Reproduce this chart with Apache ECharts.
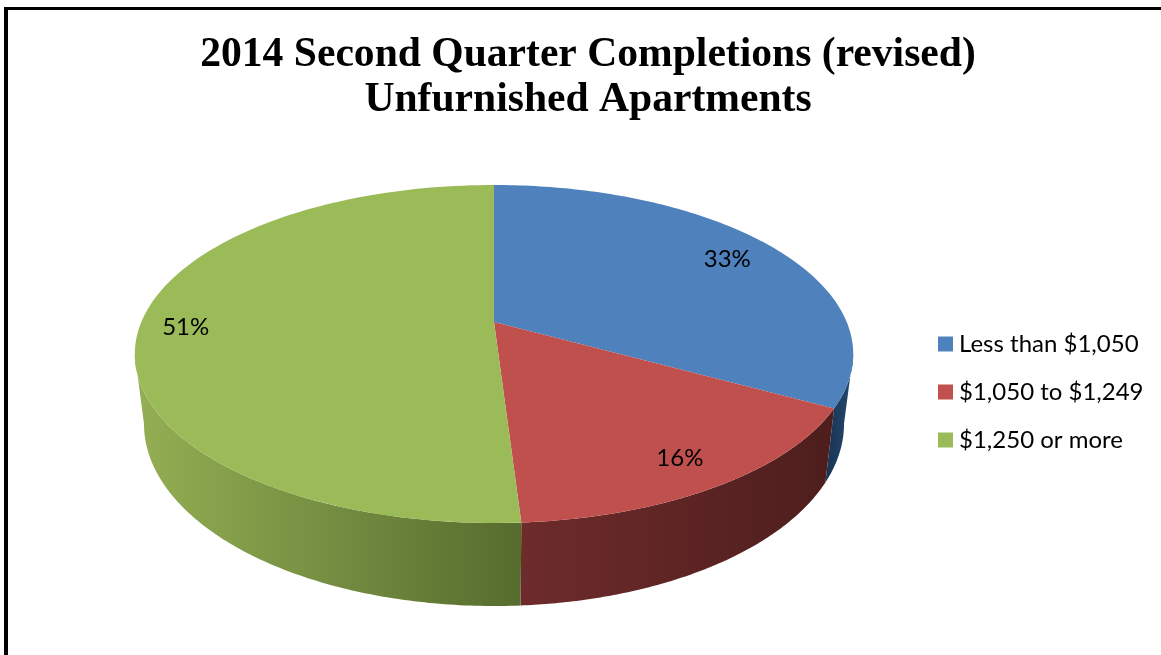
<!DOCTYPE html>
<html>
<head>
<meta charset="utf-8">
<title>2014 Second Quarter Completions</title>
<style>
    html, body { margin: 0; padding: 0; background: #fff; }
    #chart { width: 1161px; height: 655px; }
</style>
<script src="https://cdn.jsdelivr.net/npm/echarts@6/dist/echarts.min.js"></script>
</head>
<body>
<div id="chart"></div>
<script>
    const categories = ['Less than $1,050', '$1,050 to $1,249', '$1,250 or more'];
    const shares = [33, 16, 51];
    const topColors = ['#4f81bd', '#c0504d', '#9bbb59'];
    // left and right end of the shading on the rim of each slice
    const sideColors = [['#1a3352', '#24496f'], ['#6e2b2b', '#4d1e1d'], ['#93ae53', '#566c2e']];
    const sideRange = [[826, 853], [522, 834], [140, 522]];
    const labelRadius = [0.83, 0.85, 0.87];

    // perspective of the pie, fitted to the tilted disc in the picture
    const pie = {cx: 494, k: 352.7, kLow: 343.7, a: 102, b: 322, c: -0.1893, depth: 67.3};
    // the rim is only seen between the two widest points of the disc
    const rimFrom = Math.acos(pie.c) / (Math.PI * 2) * 100;
    const rimTo = 100 - rimFrom;

    function project(share, radius, low) {
        const angle = share / 100 * Math.PI * 2;
        const u = Math.sin(angle) * radius;
        const v = -Math.cos(angle) * radius;
        const w = 1 + pie.c * v;
        return [
            pie.cx + (low ? pie.kLow : pie.k) * u / w,
            (pie.a * v + pie.b) / w + (low ? pie.depth / w : 0)
        ];
    }

    function rim(from, to, low) {
        const points = [];
        for (let i = 0; i <= 120; i++) {
            points.push(project(from + (to - from) * i / 120, 1, low));
        }
        return points;
    }

    function makeSeries(name, index) {
        const start = shares.slice(0, index).reduce((sum, s) => sum + s, 0);
        return {
            name: name,
            type: 'custom',
            coordinateSystem: 'none',
            itemStyle: {color: topColors[index]},
            data: [shares[index]],
            renderItem: function (params, api) {
                const end = start + api.value(0);
                const sideFrom = Math.max(start, rimFrom);
                const sideTo = Math.min(end, rimTo);
                const upper = rim(sideFrom, sideTo, false);
                const lower = rim(sideFrom, sideTo, true).reverse();
                const text = project((start + end) / 2, labelRadius[index], false);
                return {
                    type: 'group',
                    children: [
                        {
                            type: 'polygon',
                            z2: 1,
                            shape: {points: upper.concat(lower)},
                            style: {
                                fill: new echarts.graphic.LinearGradient(
                                    sideRange[index][0], 0, sideRange[index][1], 0,
                                    [
                                        {offset: 0, color: sideColors[index][0]},
                                        {offset: 1, color: sideColors[index][1]}
                                    ],
                                    true
                                )
                            }
                        },
                        {
                            type: 'polygon',
                            z2: 2,
                            shape: {points: [project(0, 0, false)].concat(rim(start, end, false))},
                            style: {fill: topColors[index]}
                        },
                        {
                            type: 'text',
                            z2: 3,
                            style: {
                                x: text[0],
                                y: text[1] + 1,
                                text: api.value(0) + '%',
                                fill: '#000',
                                font: '24px Lato',
                                align: 'center',
                                verticalAlign: 'middle'
                            }
                        }
                    ]
                };
            }
        };
    }

    const myChart = echarts.init(document.getElementById('chart'));
    myChart.setOption({
        animation: false,
        backgroundColor: '#fff',
        title: {
            text: '2014 Second Quarter Completions (revised)\nUnfurnished Apartments',
            left: 583,
            top: 28,
            textAlign: 'center',
            textStyle: {
                fontFamily: 'Liberation Serif',
                fontWeight: 'bold',
                fontSize: 41.6,
                lineHeight: 45,
                color: '#000'
            }
        },
        legend: {
            data: categories,
            orient: 'vertical',
            left: 933,
            top: 327,
            icon: 'rect',
            itemWidth: 15,
            itemHeight: 15,
            itemGap: 24,
            selectedMode: false,
            textStyle: {fontFamily: 'Lato', fontSize: 24, color: '#000', padding: [0, 0, 0, 1]}
        },
        // chart frame: only the top and left edges are in the picture
        graphic: [
            {type: 'rect', silent: true, shape: {x: 4, y: 7, width: 1157, height: 3}, style: {fill: '#000'}},
            {type: 'rect', silent: true, shape: {x: 4, y: 7, width: 4, height: 648}, style: {fill: '#000'}}
        ],
        series: categories.map(makeSeries)
    });
</script>
</body>
</html>
